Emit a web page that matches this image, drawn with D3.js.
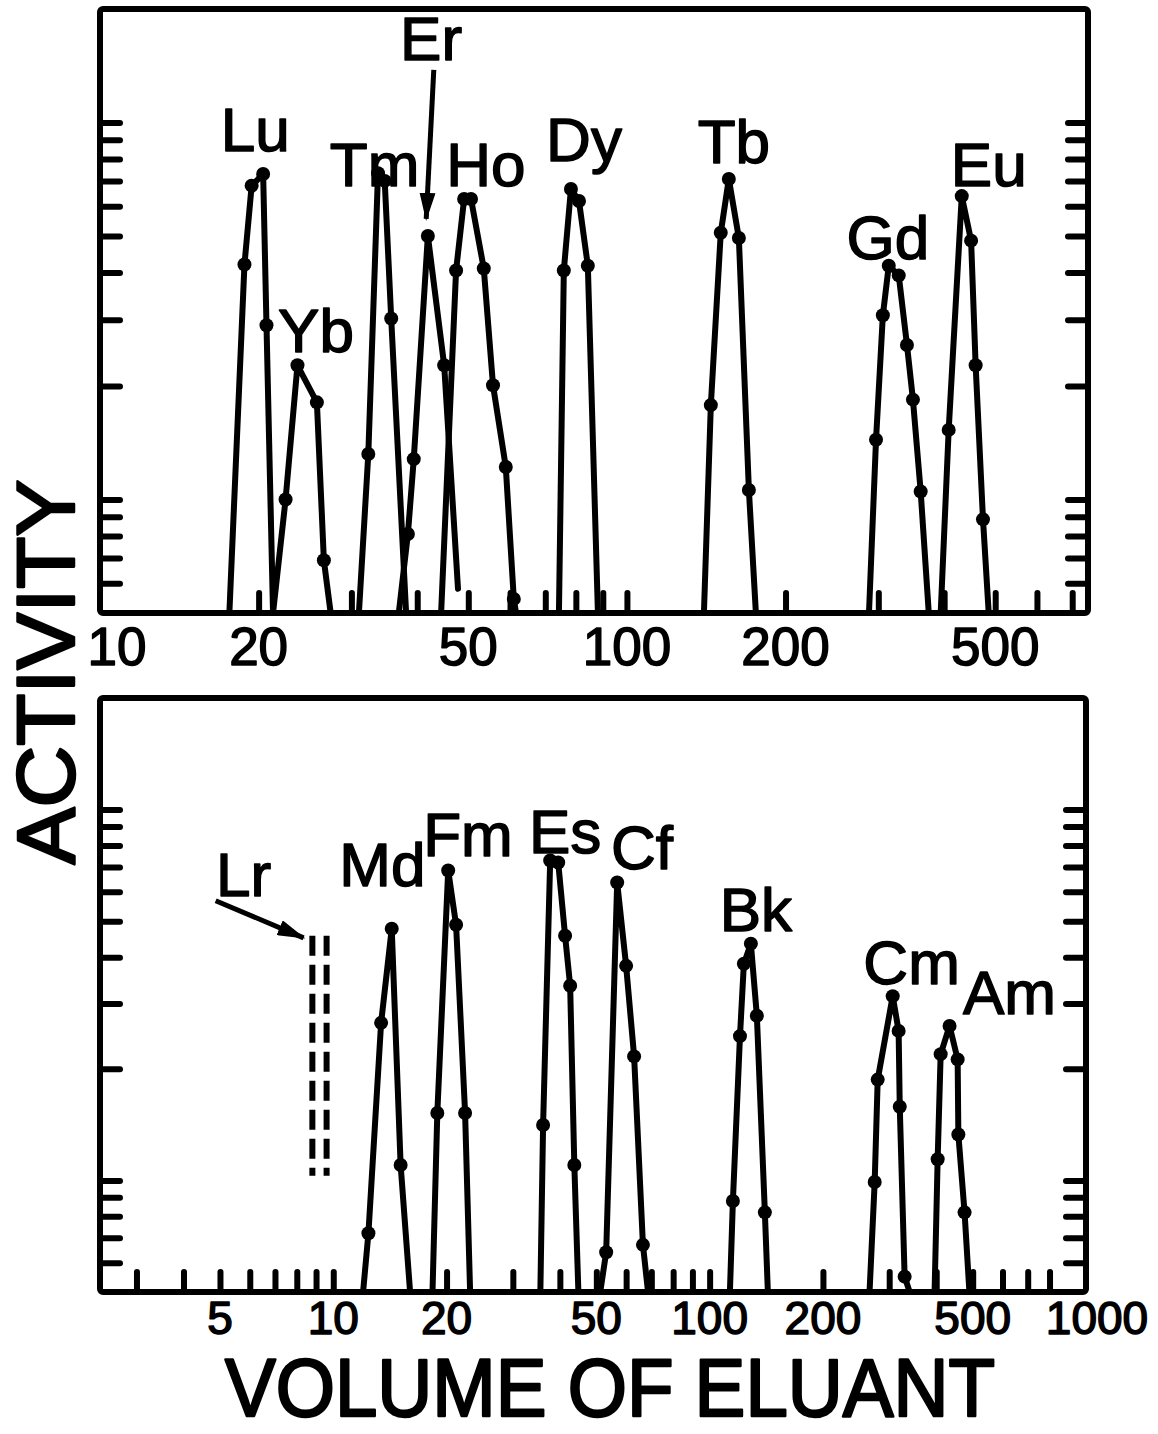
<!DOCTYPE html>
<html>
<head>
<meta charset="utf-8">
<script src="https://cdn.jsdelivr.net/npm/d3@7"></script>
<style>
body { margin: 0; background: #fff; }
text { font-family: "Liberation Sans", Arial, sans-serif; font-weight: normal; fill: #000; stroke: #000; stroke-width: 1.5px; stroke-linejoin: round; }
</style>
</head>
<body>
<script>
// ---- DATA: top panel (lanthanides) ----
const topElements = ["Lu", "Yb", "Tm", "Er", "Ho", "Dy", "Tb", "Gd", "Eu"];
const topVolumes = [
  [17.6, 18.8, 19.4, 20.4, 20.7, 21.3],
  [21.3, 22.5, 23.7, 25.8, 26.6, 27.4],
  [31.0, 32.3, 33.7, 34.7, 35.7, 38.1],
  [36.9, 38.4, 39.4, 41.9, 45.0, 47.8],
  [44.4, 47.4, 49.1, 50.6, 53.5, 55.7, 58.9, 61.0, 61.6],
  [74.3, 75.9, 78.3, 81.1, 84.3, 88.1],
  [140, 144.3, 150.7, 156.1, 163.1, 170.4, 175.7],
  [288, 297, 306, 314, 328, 340, 349, 361, 374],
  [394, 408, 432, 450, 459, 474, 486]
];
const topActivity = [
  [0.5, 4.2, 6.8, 7.3, 2.9, 0.5],
  [0.5, 1.0, 2.27, 1.81, 0.69, 0.5],
  [0.5, 1.32, 7.34, 7.0, 3.02, 0.5],
  [0.5, 0.81, 1.28, 5.0, 2.27, 0.58],
  [0.5, 4.05, 6.27, 6.27, 4.1, 2.01, 1.22, 0.545, 0.5],
  [0.5, 4.05, 6.66, 6.19, 4.17, 0.5],
  [0.5, 1.78, 5.1, 7.08, 4.94, 1.06, 0.5],
  [0.5, 1.44, 3.08, 4.17, 3.93, 2.57, 1.84, 1.05, 0.5],
  [0.5, 1.53, 6.38, 4.86, 2.27, 0.886, 0.5]
];
const topLabelVol = [19.7, 25.7, 33.2, 42.5, 54.0, 82.9, 159.6, 312.8, 486];
const topLabelAct = [8.39, 2.46, 6.78, 14.67, 6.78, 7.9, 7.8, 4.35, 6.78];
const topTicks = [20, 30, 40, 50, 60, 70, 80, 90, 100, 200, 300, 400, 500, 600, 700];
const topTickLabels = [10, 20, 50, 100, 200, 500];
const erArrowVol = [43.0, 41.6];
const erArrowAct = [13.8, 5.55];

// ---- DATA: bottom panel (actinides) ----
const botElements = ["Md", "Fm", "Es", "Cf", "Bk", "Cm", "Am"];
const botVolumes = [
  [12.0, 12.4, 13.4, 14.3, 15.1, 16.0],
  [18.35, 18.9, 20.2, 21.2, 22.4, 23.1],
  [35.5, 36.1, 37.7, 39.6, 41.3, 42.6, 43.7, 44.8],
  [51.2, 53.1, 56.8, 60.0, 63.0, 66.5, 68.6],
  [113.2, 115.3, 120.4, 123.3, 128.7, 133.5, 140.2, 142.8],
  [266, 274.5, 279.6, 306.5, 317.8, 320, 329.7, 340],
  [396, 403.5, 411, 434, 456, 458, 475.7, 490]
];
const botActivity = [
  [0.5, 0.72, 2.66, 4.77, 1.10, 0.5],
  [0.5, 1.52, 6.85, 4.89, 1.52, 0.5],
  [0.5, 1.41, 7.29, 7.2, 4.57, 3.35, 1.10, 0.5],
  [0.5, 0.64, 6.36, 3.79, 2.16, 0.67, 0.5],
  [0.5, 0.88, 2.45, 3.84, 4.35, 2.78, 0.82, 0.5],
  [0.5, 0.99, 1.87, 3.14, 2.53, 1.58, 0.55, 0.5],
  [0.5, 1.14, 2.19, 2.61, 2.12, 1.33, 0.82, 0.5]
];
const botLabelVol = [13.5, 22.8, 41.3, 66.1, 132.7, 344, 626];
const botLabelAct = [6.24, 7.52, 7.66, 6.93, 4.71, 3.39, 2.81];
const botTicks = [3, 4, 5, 6, 7, 8, 9, 10, 20, 30, 40, 50, 60, 70, 80, 90, 100, 200, 300, 400, 500, 600, 700, 800];
const botTickLabels = [5, 10, 20, 50, 100, 200, 500, 1000];
// Lr: dashed estimate
const lrVolumes = [8.8, 9.6];
const lrActivity = [1.03, 4.57];
const lrLabel = { vol: 5.78, act: 5.86 };
const lrArrowVol = [4.87, 8.34];
const lrArrowAct = [5.68, 4.51];

const yTicks = [0.6, 0.7, 0.8, 0.9, 1, 2, 3, 4, 5, 6, 7, 8, 9, 10];

//SVG
const width = 1158, height = 1434;
const svg = d3.select("body").append("svg")
  .attr("width", width)
  .attr("height", height);

svg.append("defs").append("marker")
  .attr("id", "head")
  .attr("markerUnits", "userSpaceOnUse")
  .attr("viewBox", "0 0 28 16")
  .attr("refX", 26).attr("refY", 8)
  .attr("markerWidth", 28).attr("markerHeight", 16)
  .attr("orient", "auto")
  .append("path")
  .attr("d", "M0,0 L28,8 L0,16 Z")
  .attr("fill", "#000");

//SCALES
const xTop = d3.scaleLog().domain([10, 750]).range([100, 1088]);
const yTop = d3.scaleLog().domain([0.5, 20]).range([613, 9]);
const xBot = d3.scaleLog().domain([2.4, 1000]).range([100, 1086]);
const yBot = d3.scaleLog().domain([0.5, 20]).range([1292, 698]);

function drawPanel(x, y, names, vols, acts, labVol, labAct, ticks, tickLabels, fontTick, tickBase) {
  const g = svg.append("g");
  const [x0, x1] = x.range();
  const [y0, y1] = y.range();

  // frame
  g.append("rect")
    .attr("x", x0).attr("y", y1)
    .attr("width", x1 - x0).attr("height", y0 - y1)
    .attr("rx", 3)
    .attr("fill", "none").attr("stroke", "#000").attr("stroke-width", 6);

  // y ticks left and right (inward)
  g.append("g").attr("transform", `translate(${x0},0)`)
    .call(d3.axisRight(y).tickValues(yTicks).tickSize(20).tickFormat(""))
    .call(a => a.select(".domain").remove());
  g.append("g").attr("transform", `translate(${x1},0)`)
    .call(d3.axisLeft(y).tickValues(yTicks).tickSize(20).tickFormat(""))
    .call(a => a.select(".domain").remove());
  // x ticks (inward)
  g.append("g").attr("transform", `translate(0,${y0})`)
    .call(d3.axisTop(x).tickValues(ticks).tickSize(20).tickFormat(""))
    .call(a => a.select(".domain").remove());
  g.selectAll(".tick line")
    .attr("stroke", "#000").attr("stroke-width", 6).attr("stroke-linecap", "round");

  // tick labels (first one pushed off the frame, last one past it)
  g.selectAll("text.tl")
    .data(tickLabels)
    .join("text")
    .attr("class", "tl")
    .attr("x", d => x(d))
    .attr("dx", d => (x(d) - x0 < 10 ? 17 : (x1 - x(d) < 10 ? 11 : 0)))
    .attr("y", tickBase)
    .attr("text-anchor", "middle")
    .attr("font-size", fontTick)
    .text(d => d);

  // peaks
  const line = d3.line().x(d => x(d[0])).y(d => y(d[1]));
  names.forEach((n, i) => {
    const pts = vols[i].map((v, j) => [v, acts[i][j]]);
    g.append("path")
      .attr("d", line(pts))
      .attr("fill", "none").attr("stroke", "#000")
      .attr("stroke-width", 6).attr("stroke-linejoin", "round").attr("stroke-linecap", "round");
    g.selectAll(null)
      .data(pts.slice(1, -1))
      .join("circle")
      .attr("cx", d => x(d[0])).attr("cy", d => y(d[1]))
      .attr("r", 7).attr("fill", "#000");
    g.append("text")
      .attr("x", x(labVol[i])).attr("y", y(labAct[i]))
      .attr("text-anchor", "middle")
      .attr("font-size", 62)
      .text(n);
  });
  return g;
}

drawPanel(xTop, yTop, topElements, topVolumes, topActivity, topLabelVol, topLabelAct, topTicks, topTickLabels, 53, 665);
drawPanel(xBot, yBot, botElements, botVolumes, botActivity, botLabelVol, botLabelAct, botTicks, botTickLabels, 46, 1334);

// Er arrow
svg.append("line")
  .attr("x1", xTop(erArrowVol[0])).attr("y1", yTop(erArrowAct[0]))
  .attr("x2", xTop(erArrowVol[1])).attr("y2", yTop(erArrowAct[1]))
  .attr("stroke", "#000").attr("stroke-width", 5)
  .attr("marker-end", "url(#head)");

// Lr: dashed double line, label, arrow
lrVolumes.forEach(v => {
  svg.append("line")
    .attr("x1", xBot(v)).attr("x2", xBot(v))
    .attr("y1", yBot(lrActivity[1])).attr("y2", yBot(lrActivity[0]))
    .attr("stroke", "#000").attr("stroke-width", 6)
    .attr("stroke-dasharray", "20,9");
});
svg.append("text")
  .attr("x", xBot(lrLabel.vol)).attr("y", yBot(lrLabel.act))
  .attr("text-anchor", "middle").attr("font-size", 62)
  .text("Lr");
svg.append("line")
  .attr("x1", xBot(lrArrowVol[0])).attr("y1", yBot(lrArrowAct[0]))
  .attr("x2", xBot(lrArrowVol[1])).attr("y2", yBot(lrArrowAct[1]))
  .attr("stroke", "#000").attr("stroke-width", 5)
  .attr("marker-end", "url(#head)");

//TITLES
svg.append("text")
  .attr("x", 610).attr("y", 1416)
  .attr("text-anchor", "middle")
  .attr("font-size", 82)
  .style("font-family", '"Liberation Sans Narrow", "Liberation Sans", Arial, sans-serif')
  .style("stroke-width", "2.5px")
  .attr("textLength", 770).attr("lengthAdjust", "spacingAndGlyphs")
  .text("VOLUME OF ELUANT");

svg.append("text")
  .attr("transform", "translate(74,672) rotate(-90)")
  .attr("text-anchor", "middle")
  .attr("font-size", 82)
  .style("stroke-width", "2.5px")
  .attr("textLength", 385).attr("lengthAdjust", "spacingAndGlyphs")
  .text("ACTIVITY");
</script>
</body>
</html>
